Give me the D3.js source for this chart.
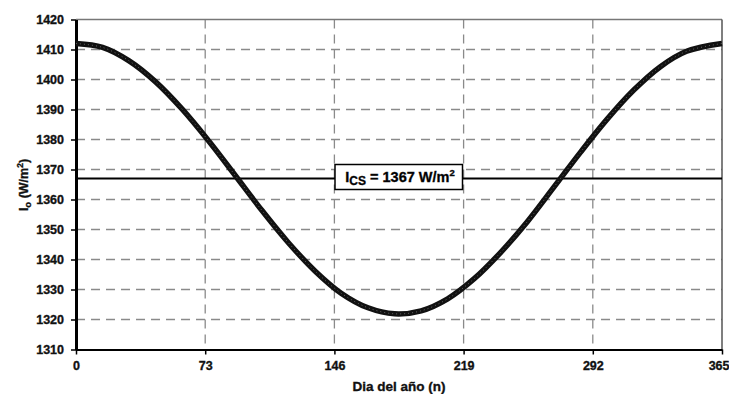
<!DOCTYPE html>
<html>
<head>
<meta charset="utf-8">
<script src="https://cdn.jsdelivr.net/npm/d3@7/dist/d3.min.js"></script>
<style>
  html, body { margin: 0; padding: 0; background: #fff; }
  svg { display: block; font-family: "Liberation Sans", Arial, sans-serif; }
  svg text { stroke: #111; stroke-width: 0.35px; }
</style>
</head>
<body>
<svg id="chart" width="729" height="394"></svg>
<script>
// Day of the year (n)
const days = [0, 15, 30, 45, 60, 75, 90, 105, 120, 135, 150, 165, 180, 195, 210, 225, 240, 255, 270, 285, 300, 315, 330, 345, 365];
// Extraterrestrial irradiance for each day (W/m²)
const irradiance = [1412, 1410.7, 1406.2, 1399.2, 1390.1, 1379.5, 1368.0, 1356.4, 1345.6, 1336.2, 1328.7, 1323.9, 1321.9, 1322.9, 1326.9, 1333.6, 1342.4, 1352.6, 1364.1, 1375.7, 1386.7, 1396.4, 1404.2, 1409.4, 1412];
// Solar constant
const solarConstant = 1367;
// Axis ticks
const xTicks = [0, 73, 146, 219, 292, 365];
const yTicks = [1310, 1320, 1330, 1340, 1350, 1360, 1370, 1380, 1390, 1400, 1410, 1420];

const svg = d3.select("#chart");
const plotLeft = 76, plotRight = 722, plotTop = 19.5, plotBottom = 349.5;

const x = d3.scaleLinear().domain([0, 365]).range([plotLeft, plotRight]);
const y = d3.scaleLinear().domain([1310, 1420]).range([plotBottom, plotTop]);

// Dashed grid
const grid = svg.append("g");
grid.selectAll("line.h").data(yTicks.filter(v => v > 1310 && v < 1420)).join("line")
  .attr("class", "h")
  .attr("x1", plotLeft).attr("x2", plotRight)
  .attr("y1", d => y(d)).attr("y2", d => y(d))
  .attr("stroke", "#8a8a8a").attr("stroke-width", 1.3).attr("stroke-dasharray", "9,6");
grid.selectAll("line.v").data(xTicks.filter(v => v > 0 && v < 365)).join("line")
  .attr("class", "v")
  .attr("x1", d => x(d)).attr("x2", d => x(d))
  .attr("y1", plotTop).attr("y2", plotBottom)
  .attr("stroke", "#8a8a8a").attr("stroke-width", 1.3).attr("stroke-dasharray", "9,6");

// Top and right frame
svg.append("line").attr("x1", plotLeft).attr("x2", plotRight).attr("y1", plotTop).attr("y2", plotTop)
  .attr("stroke", "#777").attr("stroke-width", 1.5);
svg.append("line").attr("x1", plotRight).attr("x2", plotRight).attr("y1", plotTop).attr("y2", plotBottom)
  .attr("stroke", "#555").attr("stroke-width", 1.5);

// Axes
const yAxis = svg.append("g").attr("transform", `translate(${plotLeft},0)`)
  .call(d3.axisLeft(y).tickValues(yTicks).tickSize(5).tickSizeOuter(0).tickPadding(7).tickFormat(d3.format("d")));
yAxis.select(".domain").attr("stroke", "#000").attr("stroke-width", 3);
yAxis.selectAll(".tick line").attr("stroke", "#000").attr("stroke-width", 1.5);
yAxis.selectAll("text").attr("font-size", 12.5).attr("font-weight", "bold").attr("fill", "#111");

const xAxis = svg.append("g").attr("transform", `translate(0,${plotBottom})`)
  .call(d3.axisBottom(x).tickValues(xTicks).tickSize(5).tickSizeOuter(0).tickPadding(7).tickFormat(d3.format("d")));
xAxis.select(".domain").attr("stroke", "#000").attr("stroke-width", 2);
xAxis.selectAll(".tick line").attr("stroke", "#000").attr("stroke-width", 1.5);
xAxis.selectAll("text").attr("font-size", 12.5).attr("font-weight", "bold").attr("fill", "#111");
// keep the last tick label inside the page
xAxis.selectAll(".tick text").filter(d => d === 365).attr("text-anchor", "end").attr("dx", 7);

// Solar constant reference line
svg.append("line")
  .attr("x1", plotLeft).attr("x2", plotRight)
  .attr("y1", y(solarConstant)).attr("y2", y(solarConstant))
  .attr("stroke", "#000").attr("stroke-width", 2);

// Irradiance curve
const pts = days.map((d, i) => [d, irradiance[i]]);
const line = d3.line().x(d => x(d[0])).y(d => y(d[1])).curve(d3.curveCatmullRom);
svg.append("path").attr("d", line(pts))
  .attr("fill", "none").attr("stroke", "#111").attr("stroke-width", 5.5).attr("stroke-linejoin", "round");
svg.append("path").attr("d", line(pts))
  .attr("fill", "none").attr("stroke", "#666").attr("stroke-width", 1).attr("stroke-dasharray", "1,3");

// Solar constant label box
const boxG = svg.append("g");
boxG.append("rect")
  .attr("x", 335).attr("y", 164.5)
  .attr("width", 127.5).attr("height", 25)
  .attr("fill", "#fff").attr("stroke", "#000").attr("stroke-width", 1.5);
const label = boxG.append("text")
  .attr("x", 400).attr("y", 182)
  .attr("text-anchor", "middle")
  .attr("font-size", 14.5).attr("font-weight", "bold").attr("fill", "#000");
label.append("tspan").text("I");
label.append("tspan").attr("font-size", 12).attr("dy", 3).text("CS");
label.append("tspan").attr("dy", -3).text(" = 1367 W/m");
label.append("tspan").attr("font-size", 9.5).attr("dy", -6).text("2");

// Axis titles
const yTitle = svg.append("text")
  .attr("transform", "translate(28,185) rotate(-90)")
  .attr("text-anchor", "middle")
  .attr("font-size", 12.5).attr("font-weight", "bold").attr("fill", "#111");
yTitle.append("tspan").text("I");
yTitle.append("tspan").attr("font-size", 9.5).attr("dy", 3).text("o");
yTitle.append("tspan").attr("dy", -3).text(" (W/m");
yTitle.append("tspan").attr("font-size", 8.5).attr("dy", -5).text("2");
yTitle.append("tspan").attr("dy", 5).text(")");

svg.append("text")
  .attr("x", 399).attr("y", 391)
  .attr("text-anchor", "middle")
  .attr("font-size", 13.5).attr("font-weight", "bold").attr("fill", "#111")
  .text("Dia del año (n)");
</script>
</body>
</html>
